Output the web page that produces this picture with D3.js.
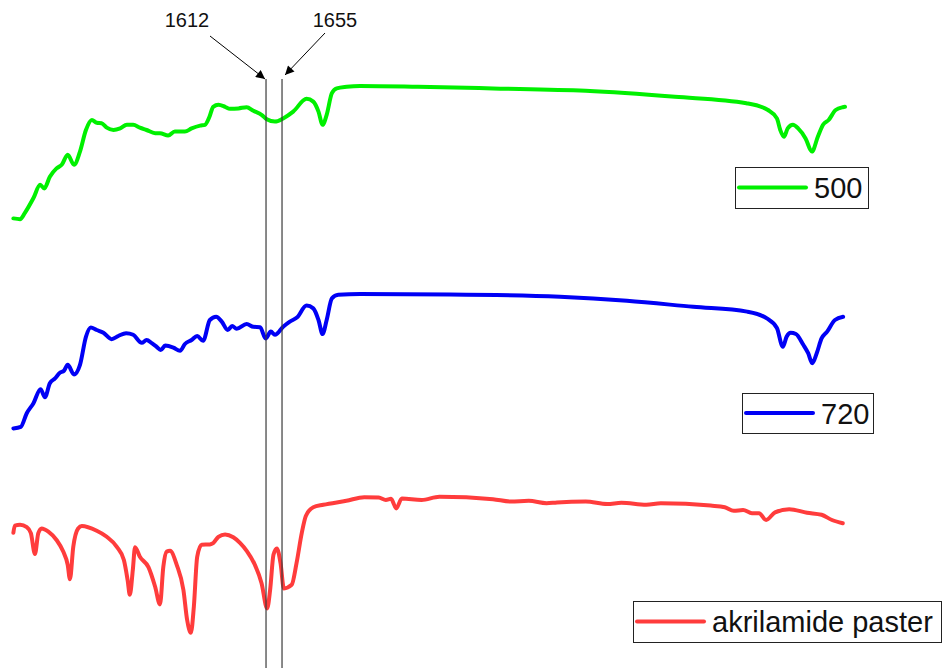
<!DOCTYPE html>
<html>
<head>
<meta charset="utf-8">
<script src="https://cdn.jsdelivr.net/npm/d3@7"></script>
<style>
  body { margin: 0; background: #fff; }
  svg { display: block; font-family: "Liberation Sans", Arial, sans-serif; }
</style>
</head>
<body>
<div id="chart"></div>
<script>
// IR spectra, stacked (offset transmittance, a.u.)
const wn500 = [933, 951, 964, 987, 1005, 1016, 1031, 1049, 1063, 1079, 1096, 1112, 1128, 1144, 1157, 1170, 1184, 1202, 1220, 1238, 1255, 1273, 1291, 1314, 1327, 1349, 1367, 1394, 1412, 1435, 1448, 1460, 1470, 1484, 1502, 1515, 1538, 1560, 1578, 1600, 1614, 1636, 1658, 1685, 1721, 1739, 1753, 1764, 1775, 1789, 1802, 1829, 1865, 2020, 2222, 2471, 2711, 2903, 2961, 2985, 2994, 3004, 3014, 3028, 3042, 3062, 3079, 3095, 3109, 3124, 3143, 3162, 3168];
const t500 = [112.4, 112.2, 113.8, 117.5, 120.8, 119.9, 122.8, 124.9, 125.8, 128.3, 125.8, 129.1, 134.5, 137.0, 136.3, 136.2, 135.1, 134.5, 134.9, 135.8, 135.8, 135.1, 134.5, 133.7, 133.7, 133.1, 134.1, 134.1, 134.9, 135.6, 135.8, 137.8, 140.3, 140.8, 140.3, 139.8, 139.9, 140.2, 139.3, 138.3, 137.2, 136.6, 137.4, 139.1, 142.3, 141.6, 139.1, 135.8, 138.3, 143.7, 144.9, 145.3, 145.5, 145.3, 144.9, 144.3, 142.8, 141.2, 139.5, 137.4, 134.5, 132.8, 134.9, 135.8, 134.9, 132.4, 129.1, 132.8, 135.8, 137.0, 139.5, 140.2, 140.3];

const wn720 = [933, 953, 969, 987, 1006, 1018, 1031, 1045, 1058, 1069, 1079, 1096, 1112, 1128, 1141, 1157, 1175, 1197, 1215, 1236, 1255, 1278, 1291, 1305, 1318, 1329, 1341, 1363, 1381, 1394, 1412, 1427, 1443, 1461, 1478, 1493, 1509, 1521, 1533, 1560, 1578, 1596, 1611, 1625, 1636, 1658, 1676, 1695, 1721, 1739, 1753, 1764, 1775, 1789, 1806, 1865, 2106, 2402, 2582, 2760, 2905, 2958, 2985, 3001, 3011, 3022, 3036, 3056, 3069, 3080, 3092, 3105, 3120, 3141, 3163];
const t720 = [59.9, 60.3, 63.7, 66.2, 69.7, 67.7, 71.2, 72.4, 73.8, 74.3, 75.8, 73.4, 75.8, 82.8, 85.1, 84.5, 83.8, 82.2, 83.0, 83.7, 83.3, 81.3, 82.0, 81.2, 80.3, 79.5, 80.6, 80.1, 79.3, 81.0, 82.0, 83.0, 81.8, 87.0, 87.8, 86.6, 84.5, 85.5, 84.8, 86.0, 85.3, 85.2, 82.4, 84.1, 83.3, 85.3, 86.6, 87.6, 90.6, 89.9, 87.0, 83.5, 87.0, 92.4, 93.3, 93.5, 93.4, 92.8, 91.8, 90.3, 89.1, 87.4, 85.0, 80.3, 82.8, 83.8, 83.5, 80.8, 78.7, 76.2, 78.7, 82.4, 84.1, 87.0, 87.8];

const wnAkr = [933, 937, 951, 969, 980, 991, 1000, 1009, 1027, 1049, 1067, 1079, 1085, 1094, 1107, 1117, 1157, 1184, 1211, 1230, 1240, 1246, 1254, 1260, 1273, 1296, 1314, 1327, 1336, 1345, 1354, 1372, 1390, 1400, 1410, 1418, 1427, 1439, 1461, 1470, 1484, 1502, 1524, 1542, 1560, 1582, 1600, 1615, 1623, 1632, 1641, 1651, 1660, 1681, 1694, 1708, 1719, 1739, 1766, 1828, 1876, 1915, 1934, 1948, 1962, 1977, 2030, 2078, 2222, 2270, 2318, 2366, 2394, 2471, 2529, 2567, 2634, 2673, 2807, 2845, 2869, 2894, 2918, 2937, 2956, 2980, 3018, 3066, 3105, 3133, 3162];
const tAkr = [33.8, 35.6, 35.8, 35.2, 33.7, 28.5, 33.7, 34.9, 34.1, 32.0, 29.1, 25.8, 22.2, 30.3, 34.9, 35.5, 34.3, 32.8, 30.3, 27.0, 22.0, 18.3, 24.5, 30.2, 27.8, 25.2, 20.3, 15.9, 25.3, 29.1, 29.3, 25.8, 19.5, 12.0, 8.8, 15.3, 27.8, 30.8, 30.9, 31.2, 32.8, 33.4, 32.7, 31.3, 29.3, 25.8, 21.2, 14.9, 19.5, 28.3, 29.9, 26.2, 19.9, 20.8, 26.2, 33.7, 38.0, 40.2, 40.8, 41.8, 42.7, 42.6, 42.0, 42.3, 39.9, 42.4, 42.0, 42.8, 42.2, 41.6, 41.8, 41.2, 41.4, 41.6, 41.0, 41.3, 40.8, 41.2, 40.6, 40.2, 39.3, 39.5, 38.7, 38.7, 37.0, 38.9, 39.7, 38.8, 38.3, 37.0, 36.2];

const markers = [1612, 1655];
const seriesNames = ["500", "720", "akrilamide paster"];
const seriesColors = ["#00f000", "#0000f5", "#ff3c3c"];

const W = 942, H = 668;

const svg = d3.select("#chart")
    .append("svg")
    .attr("width", W)
    .attr("height", H);

const x = d3.scaleLinear().domain([932, 3168]).range([13, 845]);
const y = d3.scaleLinear().domain([0, 167]).range([H, 0]);

const line = d3.line()
    .x(d => x(d[0]))
    .y(d => y(d[1]))
    .curve(d3.curveMonotoneX);

const series = [
    d3.zip(wn500, t500),
    d3.zip(wn720, t720),
    d3.zip(wnAkr, tAkr)
];

// Spectra
svg.selectAll("path.trace")
    .data(series)
    .enter()
    .append("path")
    .attr("class", "trace")
    .attr("fill", "none")
    .attr("stroke", (d, i) => seriesColors[i])
    .attr("stroke-width", 4)
    .attr("stroke-linejoin", "round")
    .attr("stroke-linecap", "round")
    .attr("d", line);

// Marker lines
svg.selectAll("line.marker")
    .data(markers)
    .enter()
    .append("line")
    .attr("class", "marker")
    .attr("x1", d => x(d))
    .attr("x2", d => x(d))
    .attr("y1", 79)
    .attr("y2", H)
    .attr("stroke", "#3a3a3a")
    .attr("stroke-width", 1.2);

// Arrowhead
svg.append("defs").append("marker")
    .attr("id", "arrow")
    .attr("viewBox", "0 0 10 10")
    .attr("refX", 10)
    .attr("refY", 5)
    .attr("markerWidth", 15)
    .attr("markerHeight", 9)
    .attr("markerUnits", "userSpaceOnUse")
    .attr("orient", "auto")
    .append("path")
    .attr("d", "M0,0 L10,5 L0,10 Z")
    .attr("fill", "#000");

// Marker labels with arrows
const labelPos = [
    { tx: 187, from: [210, 36], tip: [x(markers[0]) - 1, 79] },
    { tx: 335, from: [325, 33], tip: [x(markers[1]) + 3, 75] }
];
markers.forEach((m, i) => {
    const p = labelPos[i];
    svg.append("text")
        .attr("x", p.tx)
        .attr("y", 27)
        .attr("text-anchor", "middle")
        .attr("font-size", 20)
        .attr("fill", "#111")
        .text(m);
    svg.append("line")
        .attr("x1", p.from[0])
        .attr("y1", p.from[1])
        .attr("x2", p.tip[0])
        .attr("y2", p.tip[1])
        .attr("stroke", "#000")
        .attr("stroke-width", 1)
        .attr("marker-end", "url(#arrow)");
});

// Legends
const legends = [
    { x: 735, y: 167, w: 133, h: 41 },
    { x: 742, y: 393, w: 131, h: 40 },
    { x: 633, y: 601, w: 308, h: 41 }
];
legends.forEach((l, i) => {
    const g = svg.append("g").attr("transform", `translate(${l.x},${l.y})`);
    g.append("rect")
        .attr("x", 0.5)
        .attr("y", 0.5)
        .attr("width", l.w)
        .attr("height", l.h)
        .attr("fill", "#fff")
        .attr("stroke", "#222")
        .attr("stroke-width", 1);
    g.append("line")
        .attr("x1", 4)
        .attr("x2", 71)
        .attr("y1", l.h / 2)
        .attr("y2", l.h / 2)
        .attr("stroke", seriesColors[i])
        .attr("stroke-width", 4)
        .attr("stroke-linecap", "round");
    g.append("text")
        .attr("x", 79)
        .attr("y", l.h / 2 + 10.5)
        .attr("font-size", 29)
        .attr("fill", "#111")
        .text(seriesNames[i]);
});
</script>
</body>
</html>
